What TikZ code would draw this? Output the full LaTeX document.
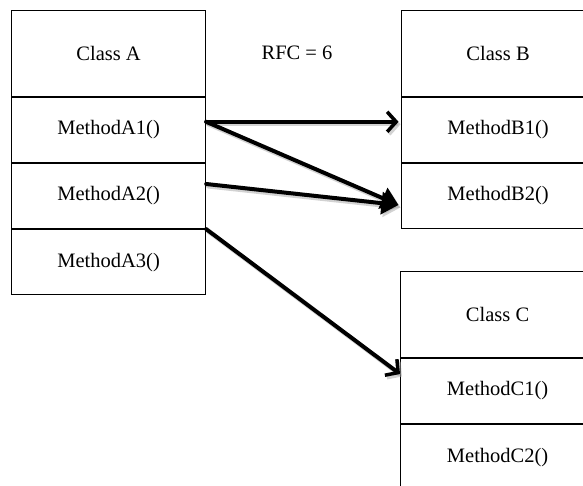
\documentclass[tikz,border=0pt]{standalone}
\usepackage{fontspec}
\setmainfont{Liberation Serif}
\usetikzlibrary{arrows.meta}
\begin{document}
\begin{tikzpicture}[x=1pt,y=-1pt,
  cell/.style={draw=black, line width=1.2pt, minimum width=194pt, inner sep=0pt,
               font=\fontsize{20.5}{23}\selectfont, anchor=north west},
  head/.style={cell, minimum height=86pt},
  meth/.style={cell, minimum height=65pt},
  link/.style={line width=4pt, line cap=round},
  opentip/.style={link, -{Straight Barb[length=9pt, width=20pt, line width=3.5pt]}},
  filltip/.style={link, -{Triangle[length=17pt, width=22pt]}},
  shade/.style={draw=black!35, opacity=0.5}
]
\useasboundingbox (0,0) rectangle (583,485);
\clip (0,0) rectangle (583,485);
\fill[white] (0,0) rectangle (583,485);

% Class A
\node[head] (a)  at (11,9.5)   {Class A};
\node[meth] (a1) at (a.south west)  {MethodA1()};
\node[meth] (a2) at (a1.south west) {MethodA2()};
\node[meth] (a3) at (a2.south west) {MethodA3()};

% Class B
\node[head] (b)  at (400.5,9.5) {Class B};
\node[meth] (b1) at (b.south west)  {MethodB1()};
\node[meth] (b2) at (b1.south west) {MethodB2()};

% Class C
\node[head] (c)  at (400,270.7) {Class C};
\node[meth] (c1) at (c.south west)  {MethodC1()};
\node[meth] (c2) at (c1.south west) {MethodC2()};

% Label
\node[font=\fontsize{20.5}{23}\selectfont] (rfc) at (297,53) {RFC = 6};

% Soft shadows under the calls
\begin{scope}[transform canvas={shift={(2pt,-2.5pt)}}]
  \draw[opentip, shade] ([yshift=8pt]a1.east) -- ([xshift=-2pt,yshift=8pt]b1.west);
  \draw[filltip, shade] ([yshift=8pt]a1.east) -- ([xshift=-2pt,yshift=-9pt]b2.west);
  \draw[filltip, shade] ([yshift=12pt]a2.east) -- ([xshift=-2pt,yshift=-9pt]b2.west);
  \draw[opentip, shade] (a3.north east) -- ([yshift=17pt]c1.west);
\end{scope}

% Method calls
\draw[opentip] ([yshift=8pt]a1.east) -- ([xshift=-2pt,yshift=8pt]b1.west);
\draw[filltip] ([yshift=8pt]a1.east) -- ([xshift=-2pt,yshift=-9pt]b2.west);
\draw[filltip] ([yshift=12pt]a2.east) -- ([xshift=-2pt,yshift=-9pt]b2.west);
\draw[opentip] (a3.north east) -- ([yshift=17pt]c1.west);
\end{tikzpicture}
\end{document}
